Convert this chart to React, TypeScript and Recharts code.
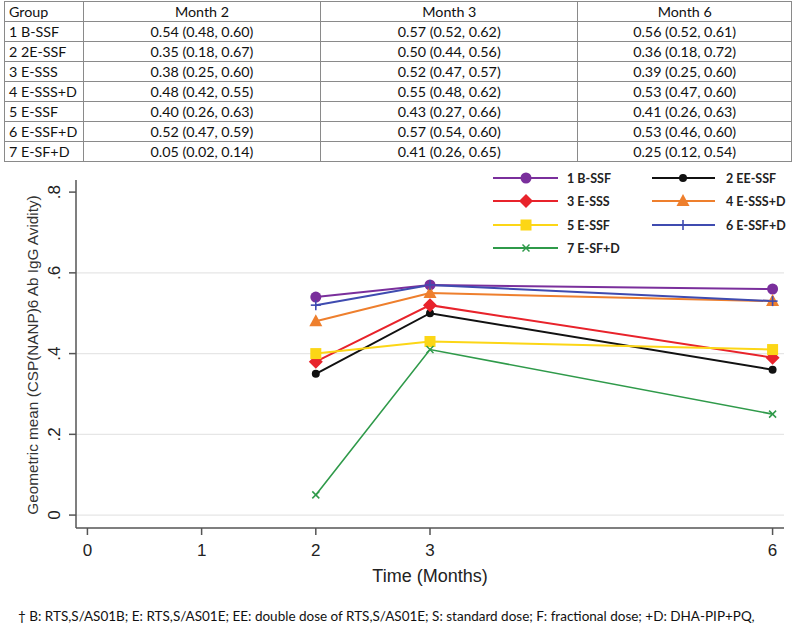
import React from 'react';
import { LineChart, Line, XAxis, YAxis, CartesianGrid } from 'recharts';

const months = [2, 3, 6];
const monthHeaders = ['Month 2', 'Month 3', 'Month 6'];
const tableGroups = ['1 B-SSF', '2 2E-SSF', '3 E-SSS', '4 E-SSS+D', '5 E-SSF', '6 E-SSF+D', '7 E-SF+D'];
const legendGroups = ['1 B-SSF', '2 EE-SSF', '3 E-SSS', '4 E-SSS+D', '5 E-SSF', '6 E-SSF+D', '7 E-SF+D'];

// geometric means at month 2, 3, 6
const g1Mean = [0.54, 0.57, 0.56];
const g2Mean = [0.35, 0.5, 0.36];
const g3Mean = [0.38, 0.52, 0.39];
const g4Mean = [0.48, 0.55, 0.53];
const g5Mean = [0.4, 0.43, 0.41];
const g6Mean = [0.52, 0.57, 0.53];
const g7Mean = [0.05, 0.41, 0.25];

// 95% CI (lower, upper)
const g1Ci = [[0.48, 0.6], [0.52, 0.62], [0.52, 0.61]];
const g2Ci = [[0.18, 0.67], [0.44, 0.56], [0.18, 0.72]];
const g3Ci = [[0.25, 0.6], [0.47, 0.57], [0.25, 0.6]];
const g4Ci = [[0.42, 0.55], [0.48, 0.62], [0.47, 0.6]];
const g5Ci = [[0.26, 0.63], [0.27, 0.66], [0.26, 0.63]];
const g6Ci = [[0.47, 0.59], [0.54, 0.6], [0.46, 0.6]];
const g7Ci = [[0.02, 0.14], [0.26, 0.65], [0.12, 0.54]];

const xTicks = [0, 1, 2, 3, 6];
const yTicks = [0, 0.2, 0.4, 0.6, 0.8];

const means = [g1Mean, g2Mean, g3Mean, g4Mean, g5Mean, g6Mean, g7Mean];
const cis = [g1Ci, g2Ci, g3Ci, g4Ci, g5Ci, g6Ci, g7Ci];

const COLORS = ['#7a2f9c', '#111111', '#e8232b', '#ee7f2d', '#fcd616', '#3f4bb0', '#2f9a4a'];
const MARKERS = ['circle', 'dot', 'diamond', 'triangle', 'square', 'plus', 'cross'];

const chartData = months.map((m, i) => {
  const row: any = { month: m };
  means.forEach((s, k) => { row['g' + (k + 1)] = s[i]; });
  return row;
});

const f2 = (v: number) => v.toFixed(2);

function marker(kind: string, cx: number, cy: number, color: string, key?: string) {
  switch (kind) {
    case 'circle':
      return <circle key={key} cx={cx} cy={cy} r={5.5} fill={color} />;
    case 'dot':
      return <circle key={key} cx={cx} cy={cy} r={4} fill={color} />;
    case 'diamond':
      return <polygon key={key} points={`${cx},${cy - 7} ${cx + 7},${cy} ${cx},${cy + 7} ${cx - 7},${cy}`} fill={color} />;
    case 'triangle':
      return <polygon key={key} points={`${cx},${cy - 7} ${cx + 6.5},${cy + 5} ${cx - 6.5},${cy + 5}`} fill={color} />;
    case 'square':
      return <rect key={key} x={cx - 5.5} y={cy - 5.5} width={11} height={11} fill={color} />;
    case 'plus':
      return (
        <g key={key} stroke={color} strokeWidth={1.6}>
          <line x1={cx - 5} y1={cy} x2={cx + 5} y2={cy} />
          <line x1={cx} y1={cy - 5} x2={cx} y2={cy + 5} />
        </g>
      );
    default:
      return (
        <g key={key} stroke={color} strokeWidth={1.5}>
          <line x1={cx - 3.5} y1={cy - 3.5} x2={cx + 3.5} y2={cy + 3.5} />
          <line x1={cx - 3.5} y1={cy + 3.5} x2={cx + 3.5} y2={cy - 3.5} />
        </g>
      );
  }
}

const XTick = ({ x, y, payload }: any) => (
  <text x={x} y={y + 19} textAnchor="middle" fontSize={17} fill="#222" fontFamily="'Liberation Sans', Arial">
    {payload.value}
  </text>
);

const YTick = ({ x, y, payload }: any) => {
  const s = payload.value === 0 ? '0' : String(payload.value).replace('0.', '.');
  return (
    <text x={x - 7} y={y} transform={`rotate(-90, ${x - 7}, ${y})`} textAnchor="middle" fontSize={17} fill="#222" fontFamily="'Liberation Sans', Arial">
      {s}
    </text>
  );
};

const cellStyle: React.CSSProperties = { border: '1px solid #8a8a8a', padding: '0 4px', height: 19, lineHeight: '18px' };

export default function App() {
  return (
    <div style={{ position: 'absolute', left: 0, top: 0, width: 800, height: 631, background: '#fff', fontFamily: 'Lato, sans-serif', color: '#111' }}>
      <table style={{ position: 'absolute', left: 4, top: 1, width: 788, borderCollapse: 'collapse', fontSize: 14.3, border: '1px solid #666' }}>
        <thead>
          <tr>
            <td style={{ ...cellStyle, width: 70 }}>Group</td>
            {monthHeaders.map((h, i) => (
              <td key={h} style={{ ...cellStyle, textAlign: 'center', width: [230, 250, 206][i] }}>{h}</td>
            ))}
          </tr>
        </thead>
        <tbody>
          {tableGroups.map((g, k) => (
            <tr key={g}>
              <td style={cellStyle}>{g}</td>
              {months.map((m, i) => (
                <td key={m} style={{ ...cellStyle, textAlign: 'center' }}>
                  {`${f2(means[k][i])} (${f2(cis[k][i][0])}, ${f2(cis[k][i][1])})`}
                </td>
              ))}
            </tr>
          ))}
        </tbody>
      </table>

      <div style={{ position: 'absolute', left: 0, top: 0 }}>
        <LineChart width={800} height={600} data={chartData} margin={{ top: 180, right: 16, bottom: 0, left: 0 }}>
          <CartesianGrid vertical={false} horizontalValues={[0, 0.2, 0.4, 0.6]} stroke="#e6e6e6" strokeWidth={1.2} />
          <XAxis
            type="number"
            dataKey="month"
            domain={[-0.1, 6.1]}
            ticks={xTicks}
            allowDataOverflow
            height={72}
            tickSize={7}
            stroke="#555"
            strokeWidth={1.5}
            tick={<XTick />}
            label={({ viewBox }: any) => (
              <text x={viewBox.x + viewBox.width / 2} y={viewBox.y + 54} textAnchor="middle" fontSize={18} fill="#222" fontFamily="'Liberation Sans', Arial">
                Time (Months)
              </text>
            )}
          />
          <YAxis
            type="number"
            domain={[-0.032, 0.83]}
            ticks={yTicks}
            allowDataOverflow
            width={76}
            tickSize={7}
            stroke="#555"
            strokeWidth={1.5}
            tick={<YTick />}
            label={({ viewBox }: any) => {
              const cy = viewBox.y + viewBox.height / 2 + 1;
              return (
                <text x={38} y={cy} transform={`rotate(-90, 38, ${cy})`} textAnchor="middle" fontSize={15.3} fill="#333" fontFamily="'Liberation Sans', Arial">
                  Geometric mean (CSP(NANP)6 Ab IgG Avidity)
                </text>
              );
            }}
          />
          {COLORS.map((c, k) => (
            <Line
              key={k}
              type="linear"
              dataKey={'g' + (k + 1)}
              stroke={c}
              strokeWidth={k === 6 ? 1.6 : 2}
              isAnimationActive={false}
              activeDot={false}
              dot={(p: any) => marker(MARKERS[k], p.cx, p.cy, c, `d${k}-${p.index}`)}
            />
          ))}
        </LineChart>
      </div>

      <svg style={{ position: 'absolute', left: 480, top: 165 }} width={320} height={100}>
        {legendGroups.map((g, k) => {
          const col = k % 2;
          const row = Math.floor(k / 2);
          const y = [13, 36, 60, 83][row];
          const x0 = col === 0 ? 13 : 172;
          const x1 = col === 0 ? 78 : 235;
          const mx = col === 0 ? 46 : 203;
          const tx = col === 0 ? 87 : 246;
          return (
            <g key={g}>
              <line x1={x0} y1={y} x2={x1} y2={y} stroke={COLORS[k]} strokeWidth={2} />
              {marker(MARKERS[k], mx, y, COLORS[k])}
              <text x={tx} y={y + 4.5} fontSize={12.5} fontWeight={700} fill="#222" fontFamily="Lato, sans-serif">{g}</text>
            </g>
          );
        })}
      </svg>

      <div style={{ position: 'absolute', left: 18, top: 608, fontSize: 13.5, whiteSpace: 'nowrap', color: '#111' }}>
        † B: RTS,S/AS01B; E: RTS,S/AS01E; EE: double dose of RTS,S/AS01E; S: standard dose; F: fractional dose; +D: DHA-PIP+PQ,
      </div>
    </div>
  );
}
